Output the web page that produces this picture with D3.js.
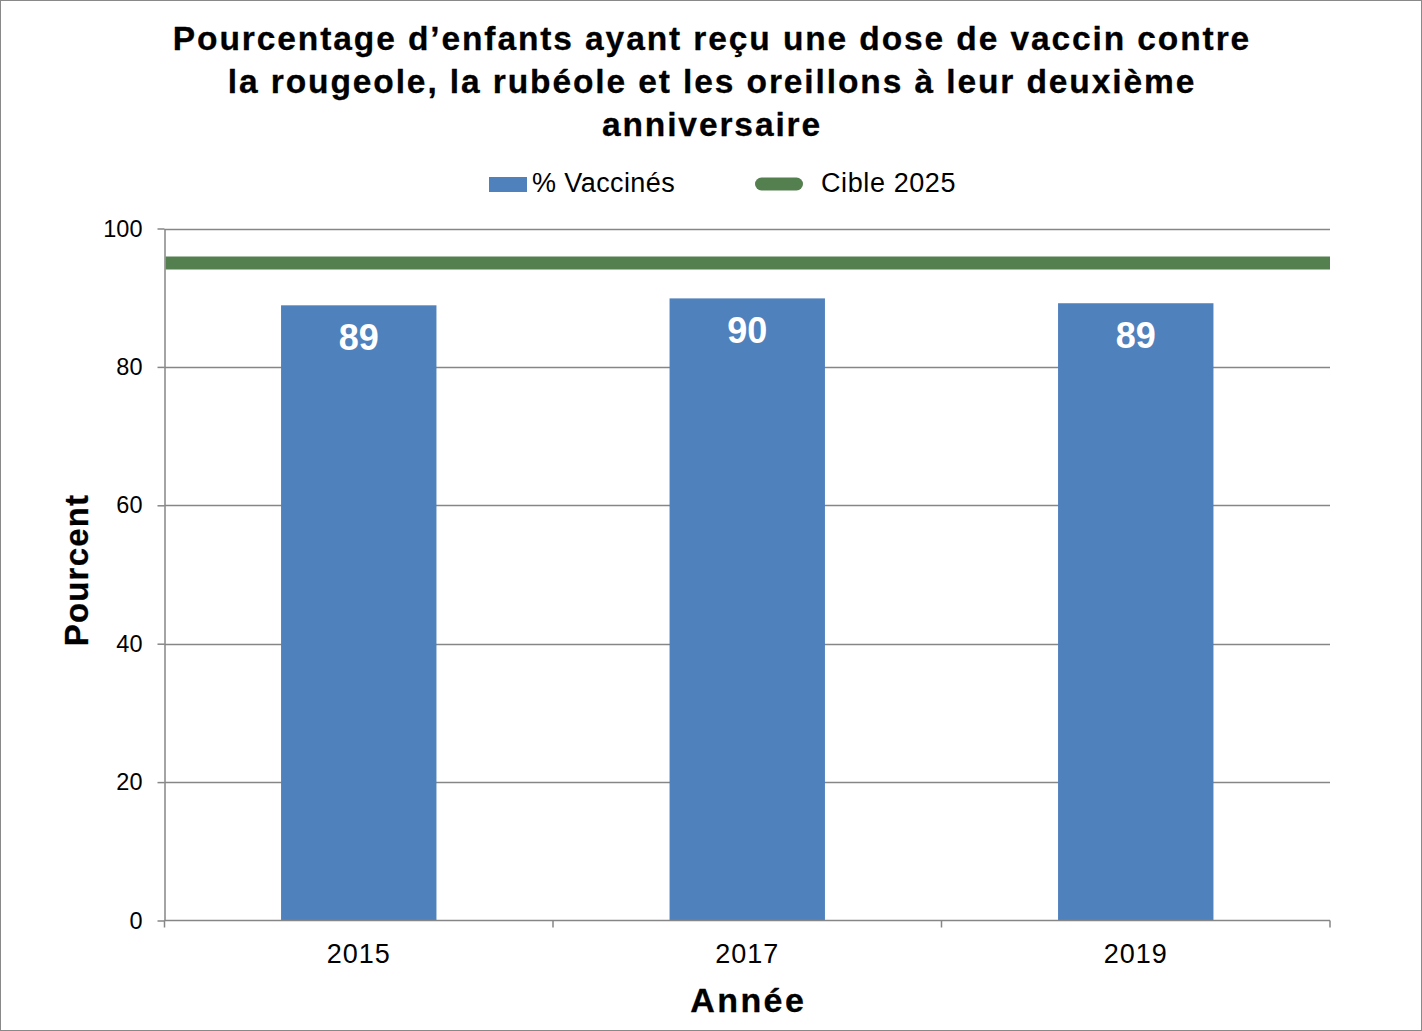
<!DOCTYPE html>
<html><head><meta charset="utf-8">
<script src="https://cdn.jsdelivr.net/npm/d3@7"></script>
<style>
html,body{margin:0;padding:0;background:#fff;}
svg{display:block;font-family:"Liberation Sans",Arial,sans-serif;}
</style></head>
<body><svg id="c" width="1422" height="1031"></svg>
<script>
const titleLines = ["Pourcentage d’enfants ayant reçu une dose de vaccin contre","la rougeole, la rubéole et les oreillons à leur deuxième","anniversaire"];
const years = ["2015","2017","2019"];
const vaccinated = [88.9, 89.9, 89.2];
const barLabels = ["89","90","89"];
const target = 95;
const yTicks = [0,20,40,60,80,100];
const seriesNames = ["% Vaccinés","Cible 2025"];

const svg = d3.select("#c");
svg.append("rect").attr("x",0.5).attr("y",0.5).attr("width",1421).attr("height",1030)
  .attr("fill","#fff").attr("stroke","#898989").attr("stroke-width",1);

const L=164.5, R=1330, T=228.5, B=920.5;
const x = d3.scaleBand().domain(years).range([L,R]).paddingInner(0.6).paddingOuter(0.3);
const y = d3.scaleLinear().domain([0,100]).range([B,T]);

// title
const tt = svg.append("text").attr("text-anchor","middle").attr("font-weight","bold").attr("font-size",33.5)
  .attr("letter-spacing",1.9).attr("fill","#000").attr("stroke","#000").attr("stroke-width",0.3);
titleLines.forEach((l,i)=>tt.append("tspan").attr("x",712).attr("y",50+i*43).text(l));

// gridlines
svg.append("g").selectAll("line").data(yTicks.filter(d=>d>0)).join("line")
  .attr("x1",L).attr("x2",R).attr("y1",d=>Math.round(y(d))+0.5).attr("y2",d=>Math.round(y(d))+0.5)
  .attr("stroke","#868686").attr("stroke-width",1.3);

// bars
svg.append("g").selectAll("rect").data(years).join("rect")
  .attr("x",d=>x(d)).attr("width",x.bandwidth())
  .attr("y",(d,i)=>y(vaccinated[i])).attr("height",(d,i)=>B-y(vaccinated[i]))
  .attr("fill","#4F81BD");

svg.append("g").selectAll("text").data(years).join("text")
  .attr("x",d=>x(d)+x.bandwidth()/2).attr("y",(d,i)=>y(vaccinated[i])+45)
  .attr("text-anchor","middle").attr("font-weight","bold").attr("font-size",36).attr("fill","#fff")
  .text((d,i)=>barLabels[i]);

// target line
svg.append("line").attr("x1",L+1).attr("x2",R).attr("y1",y(target)).attr("y2",y(target))
  .attr("stroke","#548050").attr("stroke-width",13);

// y axis
const ya = svg.append("g").attr("transform",`translate(${L},0)`)
  .call(d3.axisLeft(y).tickValues(yTicks).tickSize(7).tickPadding(15).tickSizeOuter(0));
ya.select(".domain").attr("stroke","#868686").attr("stroke-width",1.5);
ya.selectAll(".tick line").attr("stroke","#868686").attr("stroke-width",1.5);
ya.selectAll(".tick text").attr("font-size",23.5).attr("fill","#000").attr("font-family","Liberation Sans, Arial, sans-serif");

// x axis
const xa = svg.append("g").attr("transform",`translate(0,${B})`)
  .call(d3.axisBottom(x).tickSize(0).tickPadding(22));
xa.select(".domain").attr("stroke","#868686").attr("stroke-width",1.5).attr("d",`M${L},0H${R}`);
xa.selectAll(".tick text").attr("font-size",27).attr("letter-spacing",1).attr("fill","#000")
  .attr("font-family","Liberation Sans, Arial, sans-serif").attr("dy",null).attr("y",42);
// tick marks at category boundaries
const edges = d3.range(years.length+1).map(i=>L + i*(R-L)/years.length);
svg.append("g").selectAll("line").data(edges).join("line")
  .attr("x1",d=>d).attr("x2",d=>d).attr("y1",B).attr("y2",B+7)
  .attr("stroke","#868686").attr("stroke-width",1.5);

// axis titles
svg.append("text").attr("transform","translate(88,570) rotate(-90)").attr("text-anchor","middle")
  .attr("font-weight","bold").attr("font-size",33).attr("letter-spacing",1.2).attr("fill","#000")
  .attr("stroke","#000").attr("stroke-width",0.3).text("Pourcent");
svg.append("text").attr("x",(L+R)/2+1).attr("y",1012).attr("text-anchor","middle")
  .attr("font-weight","bold").attr("font-size",34).attr("letter-spacing",2.4).attr("fill","#000")
  .attr("stroke","#000").attr("stroke-width",0.3).text("Année");

// legend
const lg = svg.append("g");
lg.append("rect").attr("x",489).attr("y",177).attr("width",38).attr("height",15).attr("fill","#4F81BD");
lg.append("text").attr("x",532).attr("y",192).attr("font-size",27).attr("letter-spacing",0.4).attr("fill","#000").text(seriesNames[0]);
lg.append("line").attr("x1",761.5).attr("x2",796.5).attr("y1",184).attr("y2",184)
  .attr("stroke","#548050").attr("stroke-width",13).attr("stroke-linecap","round");
lg.append("text").attr("x",821).attr("y",192).attr("font-size",27).attr("letter-spacing",0.6).attr("fill","#000").text(seriesNames[1]);
</script></body></html>
